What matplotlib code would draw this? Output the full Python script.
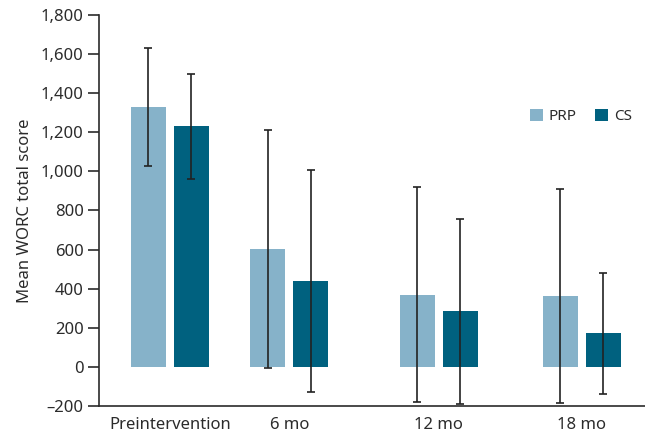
import numpy as np
import matplotlib.pyplot as plt
from matplotlib.ticker import FuncFormatter

plt.rcParams['font.family'] = ['Noto Sans', 'DejaVu Sans']

groups = ['Preintervention', '6 mo', '12 mo', '18 mo']
group_pos = [0, 0.87, 1.956, 3.0]
prp_mean = [1330, 603, 370, 363]
prp_sd = [300, 610, 552, 549]
cs_mean = [1230, 441, 284, 171]
cs_sd = [267, 567, 474, 310]

prp_color = '#86b2c9'
cs_color = '#00617f'
ink = '#2b2b2b'

fig = plt.figure(figsize=(6.45, 4.38), dpi=100)
ax = fig.add_axes([0.1535, 0.0731, 0.8465, 0.8927])

x = np.array(group_pos)
w = 0.255
off = 0.1566
ax.bar(x - off, prp_mean, w, color=prp_color, label='PRP', zorder=2)
ax.bar(x + off, cs_mean, w, color=cs_color, label='CS', zorder=2)
ax.errorbar(x - off, prp_mean, yerr=prp_sd, fmt='none', ecolor='#222222',
            elinewidth=1.2, capsize=3, capthick=1.2, zorder=3)
ax.errorbar(x + off, cs_mean, yerr=cs_sd, fmt='none', ecolor='#222222',
            elinewidth=1.2, capsize=3, capthick=1.2, zorder=3)

ax.set_xlim(-0.517, 3.46)
ax.set_ylim(-200, 1800)
ax.set_yticks(np.arange(-200, 1801, 200))
ax.yaxis.set_major_formatter(FuncFormatter(
    lambda v, p: ('\u2013' + format(int(-v), ',')) if v < 0 else format(int(v), ',')))
ax.set_xticks(x)
ax.set_xticklabels(groups)
ax.tick_params(axis='x', length=0, pad=8, labelsize=12, colors=ink)
ax.tick_params(axis='y', length=8, width=1.2, pad=3, labelsize=12, colors=ink)
ax.set_ylabel('Mean WORC total score', fontsize=12, color=ink, labelpad=6)

for s in ['top', 'right']:
    ax.spines[s].set_visible(False)
for s in ['left', 'bottom']:
    ax.spines[s].set_color(ink)
    ax.spines[s].set_linewidth(1.2)

leg = ax.legend(ncol=2, loc='center left', bbox_to_anchor=(0.789, 0.74), frameon=False,
                borderpad=0, borderaxespad=0, handlelength=0.85, handleheight=0.85,
                handletextpad=0.4, columnspacing=1.2, fontsize=11, labelcolor=ink)

fig.savefig('out.png', dpi=100)
